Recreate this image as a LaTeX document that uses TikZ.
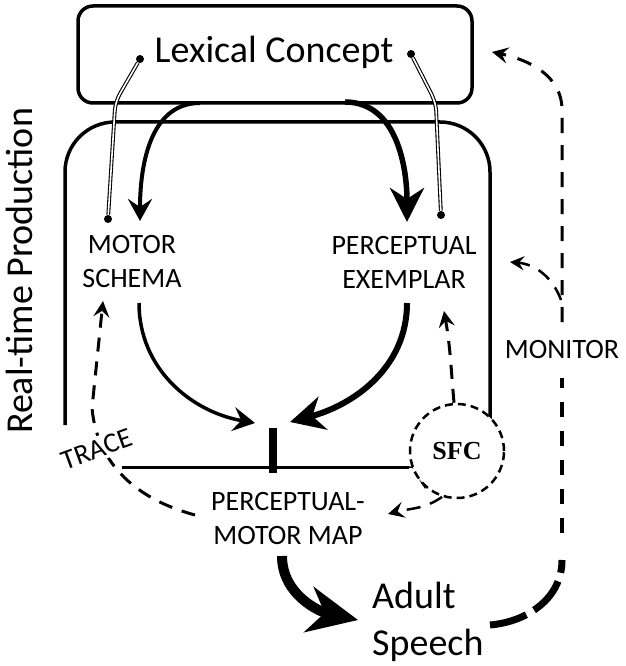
\documentclass[tikz,border=0pt]{standalone}
\usepackage{fontspec}
\setmainfont{Carlito}
\newfontfamily\sfcfont{Liberation Serif}
\usetikzlibrary{arrows.meta}

\begin{document}
\begin{tikzpicture}[x=1pt,y=1pt,
      mybig/.style={font=\fontsize{38}{47}\selectfont, inner sep=0pt},
      mylabel/.style={font=\fontsize{28}{34}\selectfont, align=center, inner sep=0pt},
      mydot/.style={circle, fill=black, inner sep=0pt, minimum size=8pt},
      mylink/.style={double, double distance=1.6pt, line width=1.1pt, rounded corners=4pt},
      mywall/.style={line width=3.5pt},
      myarrow/.style={-{Stealth[length=22pt,width=24pt,inset=8pt]}, line width=4pt},
      mybigarrow/.style={-{Stealth[length=34pt,width=34pt,inset=11pt]}, line width=5.5pt},
      mydash/.style={dash pattern=on 14pt off 10pt, line width=3pt,
         -{Stealth[length=16pt,width=16pt,inset=6pt]}}
      ]
      \useasboundingbox (0,0) rectangle (625,-666);

      \node[draw, mywall, rounded corners=15pt, minimum width=394pt, minimum height=97pt] (lexbox) at (275,-54.5) {};
      \node[mybig, anchor=base] (lex) at (274,-62.5) {Lexical Concept};

      \draw[mywall, rounded corners=50pt] (65,-425) -- (65,-122) -- (490,-122) -- (490,-420);
      \node[mybig, rotate=90] (rtp) at (19,-271) {Real-time Production};

      \node[mylabel] (motor) at (132,-262) {MOTOR\\SCHEMA};
      \node[mylabel] (exemplar) at (404,-262) {PERCEPTUAL\\EXEMPLAR};
      \node[mylabel] (pmmap) at (288,-519) {PERCEPTUAL-\\MOTOR MAP};
      \node[mybig, align=left, anchor=west] (speech) at (372,-622) {Adult\\Speech};
      \node[mylabel, anchor=base] (monitor) at (562,-358) {MONITOR};

      \foreach \n/\x/\y in {ltop/140/-59, lbot/108/-219, rtop/411/-54, rbot/441/-215}
        \node[mydot] (\n) at (\x,\y) {};
      \draw[mylink] (ltop) -- (118,-97) -- (115,-107) -- (lbot);
      \draw[mylink] (rtop) -- (433,-97) -- (436,-107) -- (rbot);

      \draw[myarrow] (200,-103) to[out=180,in=90] (140,-221);
      \draw[mybigarrow] (345,-102) to[out=0,in=90] (407,-222);

      \node[fill=black, inner sep=0pt, minimum width=8pt, minimum height=45pt] (junc) at (273,-450) {};
      \draw[myarrow, line width=3.5pt] (139,-303) to[out=-90,in=170] (255,-423);
      \draw[mybigarrow, line width=6pt] (407,-303) to[out=-90,in=15] (290,-422);

      \draw[line width=3pt] (122,-467) -- (409,-467);
      \draw[line width=1.5pt, -{Stealth[length=10pt,width=10pt,inset=3.5pt]}] (409,-467) to[out=0,in=95] (425,-489);

      \node[circle, draw, line width=2.5pt, dash pattern=on 8pt off 5pt, fill=white,
            minimum size=94pt, inner sep=0pt, font=\fontsize{26}{30}\sfcfont\bfseries] (sfc) at (457,-451) {SFC};
      \draw[mydash] ([xshift=-3pt]sfc.north) to[out=95,in=-80] (444,-311);
      \draw[mydash, line width=2.5pt] (sfc.-108) to[out=-145,in=15] (388,-514);

      % trace
      \draw[mydash] (195,-515) to[out=165,in=-85] (92,-408) -- (103,-301);
      \node[mylabel, rotate=20, fill=white, inner sep=3pt] (trace) at (97,-449) {TRACE};

      \draw[line width=10pt, -{Stealth[length=50pt,width=46pt,inset=16pt]}] (282,-556) to[out=-90,in=168] (358,-620);

      % monitor
      \draw[line width=7pt, dash pattern=on 38pt off 9pt] (490,-625) to[out=5,in=-90] (562,-560);
      \draw[line width=4pt, dash pattern=on 15pt off 14pt] (562,-533) -- (562,-378);
      \draw[mydash, dash pattern=on 15pt off 12pt] (562,-322) -- (562,-110) to[out=90,in=-12] (492,-52);
      \draw[mydash, line width=2.5pt, dash pattern=on 14pt off 10pt,
            -{Stealth[length=14pt,width=14pt,inset=5pt]}] (561,-300) to[out=110,in=-5] (510,-262);
\end{tikzpicture}
\end{document}
